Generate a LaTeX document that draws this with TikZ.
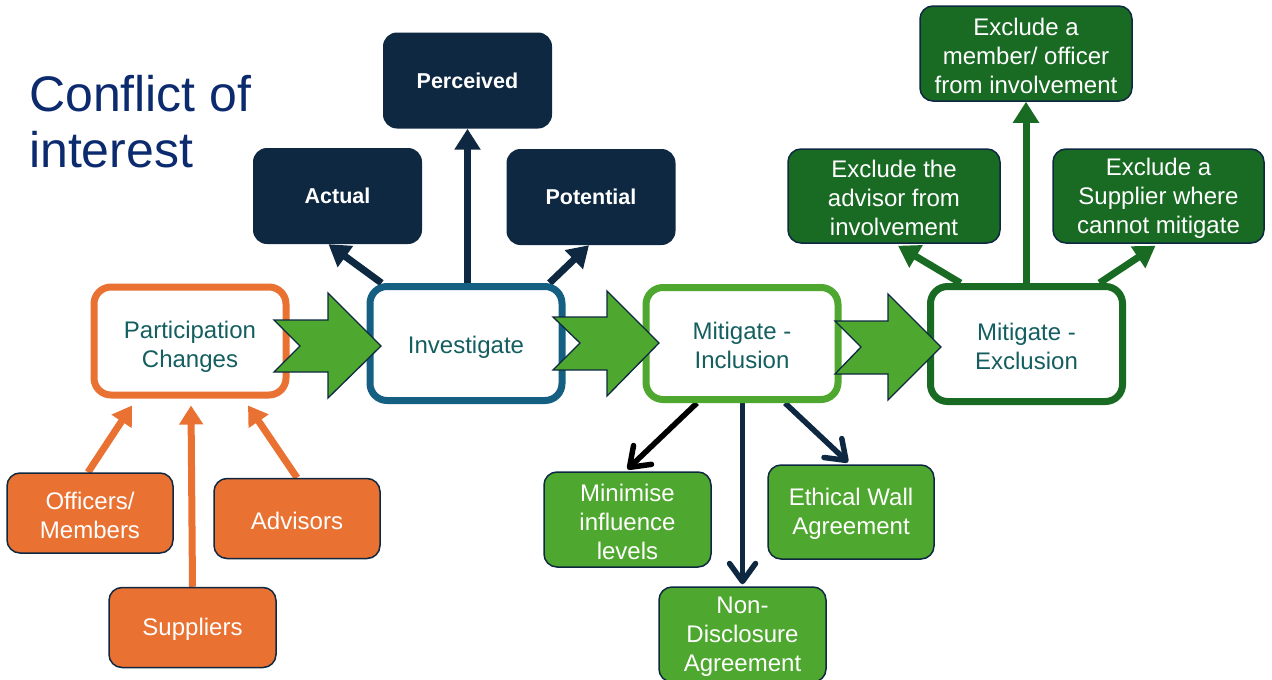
\documentclass[tikz,border=0pt]{standalone}
\usepackage{fontspec}
\setmainfont{Liberation Sans}
\usetikzlibrary{arrows.meta,calc,backgrounds}
\definecolor{navy}{HTML}{0E2841}
\definecolor{orangeacc}{HTML}{E97132}
\definecolor{blueacc}{HTML}{156082}
\definecolor{greenacc}{HTML}{4EA72E}
\definecolor{dgreen}{HTML}{196B24}
\definecolor{tealtext}{HTML}{145E60}
\definecolor{titleblue}{HTML}{0C2A6E}
\begin{document}
\begin{tikzpicture}[x=1pt,y=-1pt,
  bodyfont/.style={font=\fontsize{24}{29}\selectfont},
  maintext/.style={text=tealtext, bodyfont, align=center, inner sep=0pt},
  leaftext/.style={text=white, bodyfont, align=center, inner sep=0pt, yshift=-2pt},
  mainbox/.style={draw, line width=7pt, fill=white, rounded corners=17pt,
    minimum width=192pt, inner sep=0pt},
  darkbox/.style={fill=navy, rounded corners=14pt, minimum width=169pt,
    minimum height=96pt, text=white, font=\bfseries\fontsize{21.5}{25}\selectfont, inner sep=0pt},
  leafbox/.style={draw=navy, line width=1.5pt, rounded corners=13pt, inner sep=0pt},
  navyarrow/.style={draw=navy, line width=7pt, -{Triangle[length=21pt,width=25pt]}},
  orangearrow/.style={draw=orangeacc, line width=7pt, -{Triangle[length=19pt,width=23pt]}},
  dgarrow/.style={draw=dgreen, line width=7pt, -{Triangle[length=21pt,width=25pt]}},
  barb/.style={line width=5.5pt, -{Straight Barb[length=18pt,width=26pt,round]}},
  blockarrow/.style={fill=greenacc, draw=navy, line width=1.3pt, line join=miter}
]
\useasboundingbox (0,0) rectangle (1272,680);

% title
\node[anchor=north west, inner sep=0pt, text=titleblue, align=left,
  font=\fontsize{50}{56}\selectfont] (title) at (29,75.5) {Conflict of\\interest};

% main boxes
\node[mainbox, draw=orangeacc, minimum height=108pt,
  label={[maintext, yshift=-6pt]center:Participation\\Changes}] (pc) at (190,341) {};
\node[mainbox, draw=blueacc, minimum height=114pt,
  label={[maintext, yshift=-4pt]center:Investigate}] (inv) at (466,343.5) {};
\node[mainbox, draw=greenacc, minimum height=112pt,
  label={[maintext, yshift=-2pt]center:Mitigate -\\Inclusion}] (inc) at (742,343.5) {};
\node[mainbox, draw=dgreen, minimum height=115pt,
  label={[maintext, yshift=-2pt]center:Mitigate -\\Exclusion}] (exc) at (1026.5,344) {};

% investigate outcomes
\node[darkbox] (perc) at (467.5,80.5) {Perceived};
\node[darkbox] (act) at (337.5,196) {Actual};
\node[darkbox] (pot) at (591,197) {Potential};

% participation sources
\node[leafbox, fill=orangeacc, minimum width=166pt, minimum height=80pt,
  label={[leaftext]center:Officers/\\Members}] (off) at (90,513) {};
\node[leafbox, fill=orangeacc, minimum width=166pt, minimum height=80pt,
  label={[leaftext]center:Advisors}] (adv) at (297,518.5) {};
\node[leafbox, fill=orangeacc, minimum width=167pt, minimum height=80pt,
  label={[leaftext]center:Suppliers}] (sup) at (192.5,627.5) {};

% inclusion measures
\node[leafbox, fill=greenacc, minimum width=167pt, minimum height=95pt,
  label={[leaftext]center:Minimise\\influence\\levels}] (min) at (627.5,519.5) {};
\node[leafbox, fill=greenacc, minimum width=166pt, minimum height=94pt,
  label={[leaftext]center:Ethical Wall\\Agreement}] (eth) at (851,512) {};
\node[leafbox, fill=greenacc, minimum width=167pt, minimum height=95pt,
  label={[leaftext]center:Non-\\Disclosure\\Agreement}] (nda) at (742.5,634.5) {};

% exclusion measures
\node[leafbox, fill=dgreen, minimum width=212pt, minimum height=95pt,
  label={[leaftext]center:Exclude a\\member/ officer\\from involvement}] (exm) at (1026,53.5) {};
\node[leafbox, fill=dgreen, minimum width=212pt, minimum height=94pt,
  label={[leaftext]center:Exclude the\\advisor from\\involvement}] (exa) at (894,196) {};
\node[leafbox, fill=dgreen, minimum width=211pt, minimum height=94pt,
  label={[leaftext]center:Exclude a\\Supplier where\\cannot mitigate}] (exs) at (1158.5,196) {};

\begin{pgfonlayer}{background}
  \fill[white] (0,0) rectangle (1272,680);
  % investigate arrows
  \draw[navyarrow] (perc.south |- inv.north) -- (perc.south);
  \draw[navyarrow] ($(inv.north west)+(15,0)$) -- ($(act.south)+(-9,0)$);
  \draw[navyarrow] ($(inv.north east)+(-16,0)$) -- ($(pot.south)+(-2,0)$);
  % participation arrows
  \draw[orangearrow] ($(off.north)+(-2,0)$) -- ($(pc.south)+(-58,7)$);
  \draw[orangearrow] (sup.north) -- ($(pc.south)+(1,7)$);
  \draw[orangearrow] (adv.north) -- ($(pc.south)+(58,7)$);
  % inclusion arrows
  \draw[barb, draw=black] ($(inc.south)+(-45,0)$) -- ($(min.north)+(0,-2)$);
  \draw[barb, draw=navy] (inc.south -| nda.north) -- ($(nda.north)+(0,-2)$);
  \draw[barb, draw=navy] ($(inc.south)+(43,0)$) -- ($(eth.north)+(-3,-2)$);
  % exclusion arrows
  \draw[dgarrow] (exm.south |- exc.north) -- (exm.south);
  \draw[dgarrow] ($(exc.north)+(-66,0)$) -- ($(exa.south)+(4,2)$);
  \draw[dgarrow] ($(exc.north)+(73,0)$) -- ($(exs.south)+(-3,2)$);
\end{pgfonlayer}

% block arrows between stages
\draw[blockarrow] (274,320) -- (328,320) -- (328,293) -- (381,346) -- (328,398) -- (328,372) -- (274,372) -- (300,346) -- cycle;
\draw[blockarrow] (553,317) -- (607,317) -- (607,291) -- (659,343) -- (607,396) -- (607,370) -- (553,370) -- (580,343) -- cycle;
\draw[blockarrow] (835,321) -- (888,321) -- (888,294) -- (941,347) -- (888,400) -- (888,374) -- (835,374) -- (861,347) -- cycle;
\end{tikzpicture}
\end{document}
